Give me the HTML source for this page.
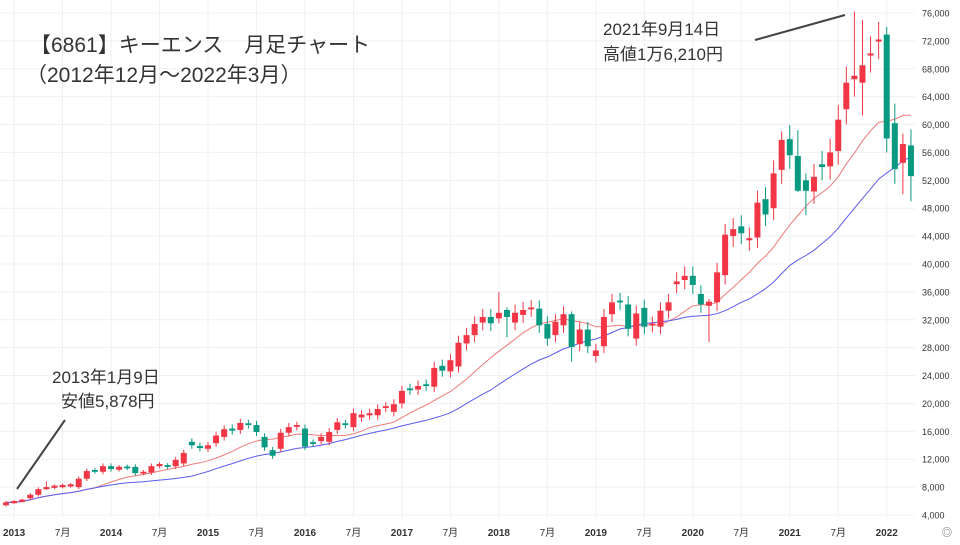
<!DOCTYPE html>
<html><head><meta charset="utf-8"><style>
body{margin:0;background:#fff;}
svg text{font-family:"Liberation Sans","Noto Sans CJK JP",sans-serif;}
</style></head><body>
<svg id="c" width="960" height="540" xmlns="http://www.w3.org/2000/svg">
<rect width="960" height="540" fill="#fff"/>
<g id="grid"></g><g id="ma"></g><g id="cd"></g><g id="ax"></g>
<text x="30" y="52" font-size="21" fill="#333">【6861】キーエンス　月足チャート</text>
<text x="26" y="82" font-size="21" fill="#333">（2012年12月～2022年3月）</text>
<text x="603" y="35" font-size="17" fill="#333">2021年9月14日</text>
<text x="603" y="60" font-size="17" fill="#333">高値1万6,210円</text>
<line x1="755" y1="40" x2="845" y2="15" stroke="#444" stroke-width="2"/>
<text x="52" y="383" font-size="17" fill="#333">2013年1月9日</text>
<text x="61" y="407" font-size="17" fill="#333">安値5,878円</text>
<line x1="65" y1="420" x2="17" y2="489" stroke="#444" stroke-width="2"/>
<text x="942" y="536" font-size="10" fill="#555">◎</text>
</svg>
<script>
var Y=function(v){return 515-(v-4000)/4000*27.89;};
var X=function(i){return 6+i*8.08;};
var d=[[5.4,5.8],[5.8,5.9],[6.0,6.1],[6.4,6.9],[6.9,7.7],[7.8,7.9],[8.0,8.1],[8.1,8.2],[8.2,8.3],[8.0,9.2],[9.2,10.3],[10.35,10.3],[10.2,11.0],[11.0,10.6],[10.6,10.8],[10.85,10.8],[10.9,10.0],[10.05,10.1],[10.1,11.0],[11.1,11.2],[11.05,11.0],[11.0,11.9],[11.4,12.9],[14.5,14.0],[13.9,13.6],[13.5,14.0],[14.3,15.4],[15.2,16.3],[16.4,16.1],[16.2,17.2],[17.05,17.0],[16.9,15.9],[15.2,13.7],[13.3,12.5],[13.5,15.8],[15.8,16.6],[16.75,16.8],[16.4,13.8],[14.35,14.3],[14.6,15.2],[14.5,15.9],[16.2,17.3],[17.05,17.0],[16.6,18.6],[18.0,18.4],[18.3,18.6],[18.3,19.2],[19.45,19.5],[18.8,19.9],[20.0,21.8],[22.05,22.0],[22.0,22.5],[22.65,22.6],[22.4,25.1],[25.4,24.7],[24.6,26.2],[25.3,28.7],[28.6,29.8],[29.8,31.4],[31.6,32.4],[32.4,31.5],[32.2,33.0],[33.4,32.4],[31.6,33.0],[32.7,33.4],[33.6,33.65],[33.6,31.2],[31.4,29.3],[29.8,31.7],[31.2,32.8],[32.8,28.1],[28.5,30.6],[30.6,28.2],[26.8,27.6],[28.2,32.4],[32.8,34.5],[34.65,34.6],[34.2,30.7],[29.3,32.9],[33.7,31.0],[31.3,31.35],[31.0,33.3],[33.3,34.5],[37.1,37.5],[37.7,38.3],[38.3,37.0],[35.7,34.2],[34.0,34.6],[34.5,38.8],[38.4,44.2],[44.0,45.0],[45.4,44.4],[43.4,43.7],[43.8,48.8],[49.3,47.1],[48.0,53.0],[53.5,57.8],[57.9,55.6],[55.5,50.5],[52.0,50.5],[50.4,52.5],[54.3,53.9],[54.0,56.0],[56.2,60.7],[62.2,66.0],[66.5,67.0],[66.0,68.5],[69.9,70.2],[71.9,72.2],[72.9,58.0],[60.2,53.6],[54.5,57.2],[57.0,52.6]];
var ov={61:[36,31.5],62:[33.8,29.5],70:[33.2,26],87:[35,28.8],105:[76.2,64],106:[75,61.3],109:[74,56],110:[63,51.5],111:[58.7,50],112:[59.3,49],5:[8.8,7.6],96:[59,51.5],98:[59.2,50.3],99:[53,47]};
var ns="http://www.w3.org/2000/svg";
function el(p,t,a){var e=document.createElementNS(ns,t);for(var k in a)e.setAttribute(k,a[k]);document.getElementById(p).appendChild(e);return e;}
// grid + y labels
for(var v=4000;v<=76000;v+=4000){var y=Y(v);el('grid','line',{x1:0,x2:915,y1:y,y2:y,stroke:'#eef0f3','stroke-width':1});
var t=el('ax','text',{x:922,y:y+3.5,'font-size':9,fill:'#333'});t.textContent=v.toLocaleString('en-US');}
var lb=['2013','7月','2014','7月','2015','7月','2016','7月','2017','7月','2018','7月','2019','7月','2020','7月','2021','7月','2022'];
for(var k=0;k<lb.length;k++){var x=X(1+k*6);el('grid','line',{x1:x,x2:x,y1:0,y2:518,stroke:'#eef0f3','stroke-width':1});
var t=el('ax','text',{x:x,y:536,'font-size':10,'font-weight':lb[k].length==4?'bold':'normal',fill:'#333','text-anchor':'middle'});t.textContent=lb[k];}
// candles
for(var i=0;i<d.length;i++){var o=d[i][0]*1000,c=d[i][1]*1000,up=c>=o;var col=up?'#f23645':'#089981';
var hi,lo;if(ov[i]){hi=ov[i][0]*1000;lo=ov[i][1]*1000;}else{hi=Math.max(o,c)*1.035;lo=Math.min(o,c)*0.965;}
var x=X(i);el('cd','line',{x1:x,x2:x,y1:Y(hi),y2:Y(lo),stroke:col,'stroke-width':1});
var t=Y(Math.max(o,c)),b=Y(Math.min(o,c));if(b-t<1.5){t-=0.75;b+=0.75;}
el('cd','rect',{x:x-3,y:t,width:6,height:b-t,fill:col});}
// MAs
function ma(n,col){var p=[];for(var i=0;i<d.length;i++){var s=0,m=0;for(var j=Math.max(0,i-n+1);j<=i;j++){s+=d[j][1];m++;}p.push(X(i).toFixed(1)+','+Y(s/m*1000).toFixed(1));}
el('ma','polyline',{points:p.join(' '),fill:'none',stroke:col,'stroke-width':1});}
ma(12,'#f07a7a');ma(24,'#5b5bf0');
</script>
</body></html>
